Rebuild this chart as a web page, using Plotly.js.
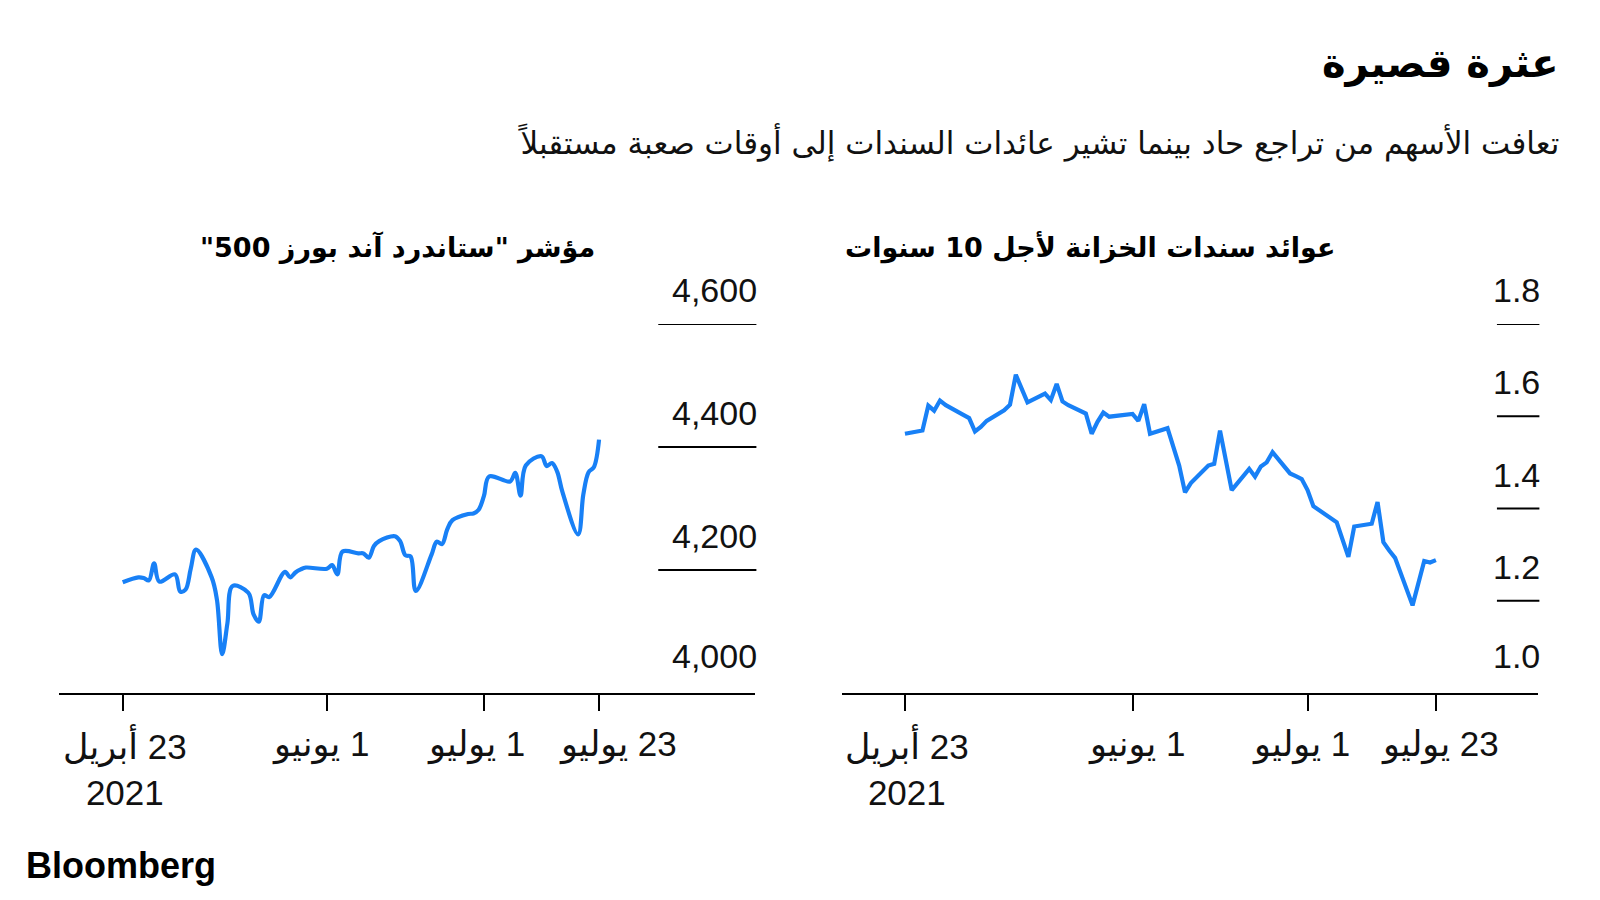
<!DOCTYPE html>
<html>
<head>
<meta charset="utf-8">
<script src="https://cdn.plot.ly/plotly-3.0.1.min.js"></script>
<style>html,body{margin:0;padding:0;background:#fff;}#chart{width:1600px;height:900px;}</style>
</head>
<body>
<div id="chart"></div>
<script>
// ---- data ----
const spxDates = ['2021-04-23','2021-04-26','2021-04-27','2021-04-28','2021-04-29','2021-04-30',
 '2021-05-03','2021-05-04','2021-05-05','2021-05-06','2021-05-07','2021-05-10','2021-05-11','2021-05-12','2021-05-13','2021-05-14',
 '2021-05-17','2021-05-18','2021-05-19','2021-05-20','2021-05-21','2021-05-24','2021-05-25','2021-05-26','2021-05-27','2021-05-28',
 '2021-06-01','2021-06-02','2021-06-03','2021-06-04','2021-06-07','2021-06-08','2021-06-09','2021-06-10','2021-06-11',
 '2021-06-14','2021-06-15','2021-06-16','2021-06-17','2021-06-18','2021-06-21','2021-06-22','2021-06-23','2021-06-24','2021-06-25',
 '2021-06-28','2021-06-29','2021-06-30','2021-07-01','2021-07-02','2021-07-06','2021-07-07','2021-07-08','2021-07-09',
 '2021-07-12','2021-07-13','2021-07-14','2021-07-15','2021-07-16','2021-07-19','2021-07-20','2021-07-21','2021-07-22','2021-07-23'];
const spxValues = [4180,4188,4187,4183,4211,4181,
 4193,4165,4168,4202,4233,4188,4152,4063,4113,4174,
 4163,4128,4116,4159,4156,4197,4188,4196,4201,4204,
 4202,4208,4193,4230,4227,4227,4220,4239,4247,
 4255,4247,4224,4222,4166,4225,4246,4242,4266,4281,
 4291,4292,4298,4320,4352,4344,4358,4321,4370,
 4385,4369,4374,4360,4327,4258,4323,4359,4367,4412];

const ustDates = spxDates;
const ustValues = [1.562,1.569,1.623,1.612,1.634,1.624,
 1.603,1.596,1.567,1.577,1.590,1.613,1.625,1.690,1.660,1.630,
 1.649,1.635,1.670,1.632,1.624,1.606,1.562,1.588,1.608,1.599,
 1.605,1.590,1.626,1.562,1.574,1.535,1.493,1.435,1.455,
 1.493,1.497,1.569,1.505,1.440,1.486,1.469,1.491,1.500,1.522,
 1.476,1.470,1.464,1.440,1.405,1.370,1.330,1.295,1.361,
 1.367,1.414,1.327,1.309,1.293,1.190,1.235,1.286,1.283,1.288];

const xTickVals = ['2021-04-23','2021-06-01','2021-07-01','2021-07-23'];
const xTickText = ['\u200F23 أبريل<br>2021','\u200F1 يونيو','\u200F1 يوليو','\u200F23 يوليو'];

const spxTicks = [4000,4200,4400,4600];
const spxTickText = ['4,000','4,200','4,400','4,600'];
const ustTicks = [1.0,1.2,1.4,1.6,1.8];
const ustTickText = ['1.0','1.2','1.4','1.6','1.8'];

const mainTitle = 'عثرة قصيرة';
const subTitle = 'تعافت الأسهم من تراجع حاد بينما تشير عائدات السندات إلى أوقات صعبة مستقبلاً';
const spxTitle = 'مؤشر "ستاندرد آند بورز 500"\u200F';
const ustTitle = 'عوائد سندات الخزانة لأجل 10 سنوات';
const source = 'Bloomberg';

// ---- styling ----
const W = 1600, H = 900;
const blue = 'rgb(24,128,246)';
const numFont = {family: 'Liberation Sans, Arial, DejaVu Sans', size: 34, color: '#111'};
const xLabFont = {family: 'Liberation Sans, Arial, DejaVu Sans', size: 35, color: '#111'};
const arFont = {family: 'DejaVu Sans', color: '#000'};

const traces = [
  {x: spxDates, y: spxValues, type: 'scatter', mode: 'lines', xaxis: 'x', yaxis: 'y',
   line: {color: blue, width: 4.2, shape: 'spline', smoothing: 1}, hoverinfo: 'skip'},
  {x: ustDates, y: ustValues, type: 'scatter', mode: 'lines', xaxis: 'x2', yaxis: 'y2',
   line: {color: blue, width: 4.2}, hoverinfo: 'skip'}
];

function xAxis(domain, range, anchor) {
  return {type: 'date', domain: domain, range: range, anchor: anchor, showgrid: false, zeroline: false,
    showline: true, linecolor: '#000', linewidth: 2, ticks: 'outside', ticklen: 16, tickwidth: 2,
    tickcolor: '#000', tickvals: xTickVals, showticklabels: false, fixedrange: true};
}
function yAxis(domain, range, anchor) {
  return {domain: domain, range: range, showgrid: false, zeroline: false, showline: false,
    showticklabels: false, ticks: '', anchor: anchor, fixedrange: true};
}

const yDom = [207/H, 576/H];
const layout = {
  width: W, height: H, margin: {l: 0, r: 0, t: 0, b: 0},
  paper_bgcolor: '#fff', plot_bgcolor: '#fff', showlegend: false,
  xaxis: xAxis([59/W, 755/W], ['2021-04-10 20:00', '2021-08-21 19:00'], 'y'),
  yaxis: yAxis(yDom, [4000, 4600], 'x'),
  xaxis2: xAxis([842/W, 1538/W], ['2021-04-12 05:00', '2021-08-09 12:00'], 'y2'),
  yaxis2: yAxis(yDom, [1.0, 1.8], 'x2'),
  shapes: [], annotations: []
};

// short gridlines + value labels at the right of each panel
function addGrid(ticks, texts, xref, yref, gx0) {
  ticks.forEach((v, i) => {
    if (i > 0) {
      layout.shapes.push({type: 'line', xref: xref + ' domain', yref: yref, x0: gx0, x1: 1.002, y0: v, y1: v,
        line: {color: '#000', width: 2}});
    }
    layout.annotations.push({xref: xref + ' domain', yref: yref, x: 1.002, y: v, xanchor: 'right', yanchor: 'middle',
      xshift: 3, yshift: i === 0 ? 37 : 34, text: texts[i], showarrow: false, font: numFont});
  });
}
addGrid(spxTicks, spxTickText, 'x', 'y', 0.861);
addGrid(ustTicks, ustTickText, 'x2', 'y2', 0.941);

// date labels under each axis
const labelTop = 1 - 722/H;
function addDateLabels(xref, shifts) {
  xTickVals.forEach((d, i) => {
    layout.annotations.push({xref: xref, yref: 'paper', x: d, y: labelTop, xanchor: 'center', yanchor: 'top',
      xshift: shifts[i], text: xTickText[i], showarrow: false, align: 'center', font: xLabFont});
  });
}
addDateLabels('x', [2, -6, -8, 19]);
addDateLabels('x2', [2, 4, -7, 4]);

// titles
layout.annotations.push(
  {xref: 'paper', yref: 'paper', x: 1561/W, y: 1 - 63/H, xanchor: 'right', yanchor: 'middle', showarrow: false,
   text: mainTitle, font: Object.assign({}, arFont, {size: 40, weight: 700})},
  {xref: 'paper', yref: 'paper', x: 1561/W, y: 1 - 143/H, xanchor: 'right', yanchor: 'middle', showarrow: false,
   text: subTitle, font: Object.assign({}, arFont, {size: 31, color: '#111'})},
  {xref: 'paper', yref: 'paper', x: 597/W, y: 1 - 247/H, xanchor: 'right', yanchor: 'middle', showarrow: false,
   text: spxTitle, font: Object.assign({}, arFont, {size: 27, weight: 700})},
  {xref: 'paper', yref: 'paper', x: 1337/W, y: 1 - 247/H, xanchor: 'right', yanchor: 'middle', showarrow: false,
   text: ustTitle, font: Object.assign({}, arFont, {size: 27, weight: 700})},
  {xref: 'paper', yref: 'paper', x: 24/W, y: 1 - 865/H, xanchor: 'left', yanchor: 'middle', showarrow: false,
   text: source, font: {family: 'Liberation Sans, Arial', size: 36, weight: 700, color: '#000'}}
);

Plotly.newPlot('chart', traces, layout, {staticPlot: true, displayModeBar: false});
</script>
</body>
</html>
